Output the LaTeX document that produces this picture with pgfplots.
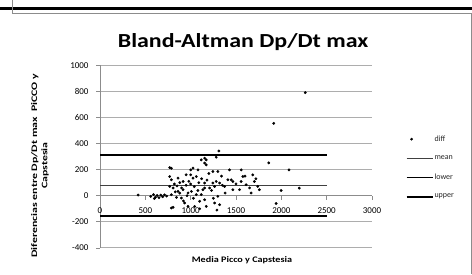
\documentclass[border=0pt]{standalone}
\usepackage{pgfplots}
\pgfplotsset{compat=1.18}
\usepackage{fontspec}
\setmainfont{Carlito}
\usepackage{graphicx}
\pgfplotsset{markleg/.style={legend image code/.code={\draw[##1] plot coordinates {(5bp,0bp)};}}}
\begin{document}
\begin{tikzpicture}[x=1bp,y=1bp]
% frame
\fill[black] (0,264) rectangle (472,266.5);
\draw[black!45, line width=0.8bp] (12,274) -- (12,261) -- (471,261) -- (471,0);
\begin{axis}[
  at={(100bp,78.3bp)}, anchor=origin,
  scale only axis, width=272bp, height=182.6bp,
  xmin=0, xmax=3000, ymin=-400, ymax=1000,
  axis x line*=middle, axis y line*=left,
  hide obscured x ticks=false,
  axis line style={black!45, line width=0.7bp},
  xtick={0,500,...,3000}, ytick={-400,-200,...,1000},
  ymajorgrids, grid style={black!32, line width=1bp},
  tick style={black!45, line width=0.6bp}, tick align=outside, major tick length=4bp,
  ticklabel style={font=\fontsize{9}{10}\selectfont, text=black},
  xticklabel style={yshift=-4bp},
  yticklabel style={xshift=-4bp},
  /pgf/number format/assume math mode=true,
  /pgf/number format/1000 sep={},
  title={\fontsize{20}{23}\selectfont\bfseries\scalebox{1.2}[1]{Bland-Altman Dp/Dt max}},
  title style={at={(0.526,1)}, anchor=south, yshift=5bp},
  xlabel={\fontsize{8.5}{10}\selectfont\bfseries\scalebox{1.2}[1]{Media Picco y Capstesia}},
  xlabel style={at={(0.522,0)}, anchor=center, yshift=-12bp},
  ylabel={\fontsize{8.5}{10.5}\selectfont\bfseries\scalebox{1.4}[1]{\begin{tabular}{@{}c@{}}Diferencias entre Dp/Dt max \ PiCCO y\\Capstesia\end{tabular}}},
  ylabel style={at={(-0.22,0.45)}, anchor=center},
  clip=false,
  legend style={draw=none, fill=none, at={(1.112,0.44)}, anchor=west,
    font=\fontsize{8}{9}\selectfont, row sep=11bp, text=black!85,
    nodes={inner sep=1bp}},
  legend cell align=left,
  legend image code/.code={\draw[#1] (0bp,0bp) -- (26bp,0bp);},
]
\addplot[only marks, mark=*, mark size=1.2bp, black, markleg] coordinates {
(421,5)
(560,-5)(590,8)(610,-12)(630,2)(650,-15)(670,5)(690,-8)(712,6)(735,-3)(600,-22)
(769,216)(787,210)(769,147)(787,122)(861,135)(916,109)(1026,135)(1062,147)
(769,71)(806,59)(861,33)(916,46)(971,21)(1008,33)(1062,8)(1117,8)(787,8)(843,-13)(898,-18)(806,-89)(934,-56)(971,-82)(1044,-82)(1099,-43)(1154,59)
(1000,198)(1026,211)(1081,198)(1117,275)(1154,288)
(1172,275)(1154,250)(1282,295)(1311,343)
(1172,236)(1245,185)(1300,185)(1429,198)(1557,198)(1575,147)(1447,122)(1465,109)(1557,109)(1685,160)(1703,109)(1154,97)(1245,97)(1282,109)(1319,97)(1374,71)(1264,71)(1209,59)(1410,122)(1612,84)(1740,71)(1758,46)(1667,21)(1465,46)(1539,46)(1135,46)(1300,-5)(1154,-31)(1264,-56)(1319,-69)(1172,-82)(1290,-110)(787,-94)
(1861,252)(1916,555)(2264,790)(2085,198)(1997,40)(2198,58)(1942,-60)
(820,90)(850,75)(880,100)(900,60)(950,80)(980,110)(1000,90)(1040,70)(1090,100)(1120,130)(950,160)(1000,160)(880,20)(1030,-20)(1080,40)(1200,170)(1230,40)(1340,150)(1380,20)(1500,90)(1600,150)(1650,60)(1720,130)(830,30)(920,-40)(960,0)(1250,-20)(1350,80)(1180,120)(1100,-100)
};
\addlegendentry{diff}
\addplot[black!75, line width=0.8bp] coordinates {(0,78)(2500,78)};
\addlegendentry{mean}
\addplot[black, line width=1.3bp] coordinates {(0,-156)(2500,-156)};
\addlegendentry{lower}
\addplot[black, line width=1.9bp] coordinates {(0,312)(2500,312)};
\addlegendentry{upper}
\end{axis}
\pgfresetboundingbox
\path[use as bounding box] (0,0) rectangle (472,274);
\end{tikzpicture}
\end{document}
